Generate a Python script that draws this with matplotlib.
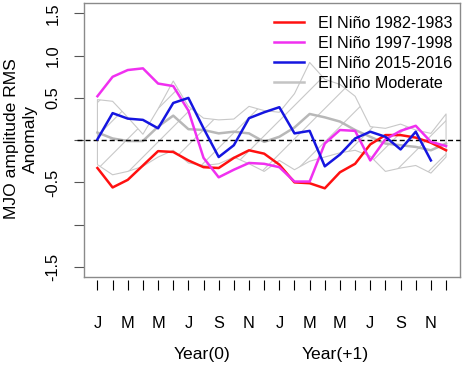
import numpy as np
import matplotlib
matplotlib.use("Agg")
import matplotlib.pyplot as plt
import matplotlib.transforms as mtransforms
from matplotlib.lines import Line2D

plt.rcParams['font.family'] = ['Liberation Sans', 'DejaVu Sans']

# ---- data ----
month_labels = ["J", "F", "M", "A", "M", "J", "J", "A", "S", "O", "N", "D"] * 2
x = np.arange(1, 25)

nino_1982 = [-0.33, -0.56, -0.47, -0.30, -0.13, -0.14, -0.24, -0.32, -0.33, -0.21, -0.12, -0.16,
             -0.29, -0.50, -0.51, -0.57, -0.38, -0.28, -0.05, 0.06, 0.06, 0.03, -0.03, -0.12]
nino_1997 = [0.52, 0.75, 0.83, 0.85, 0.67, 0.64, 0.35, -0.21, -0.44, -0.35, -0.27, -0.28,
             -0.32, -0.49, -0.49, -0.04, 0.12, 0.11, -0.24, 0.01, 0.11, 0.17, -0.02, -0.07]
nino_2015 = [0.01, 0.32, 0.255, 0.24, 0.14, 0.44, 0.50, 0.14, -0.20, -0.06, 0.26, 0.33,
             0.39, 0.08, 0.11, -0.31, -0.17, 0.02, 0.10, 0.04, -0.11, 0.10, -0.24, np.nan]
moderate_mean = [0.09, 0.02, -0.01, -0.01, 0.16, 0.29, 0.13, 0.12, 0.08, 0.10, 0.08, -0.02,
                 0.04, 0.15, 0.31, 0.27, 0.22, 0.12, 0.04, -0.04, -0.06, -0.08, -0.12, -0.04]
moderate_upper = [0.48, 0.46, 0.27, 0.07, 0.37, 0.70, 0.40, 0.26, 0.24, 0.25, 0.40, 0.35,
                  0.33, 0.55, 0.92, 0.72, 0.66, 0.52, 0.16, 0.14, 0.19, 0.12, 0.08, 0.31]
moderate_lower = [-0.29, -0.41, -0.37, -0.31, -0.20, -0.12, -0.27, -0.30, -0.28, -0.20, -0.28, -0.37,
                  -0.24, -0.35, -0.25, -0.20, -0.15, -0.12, -0.19, -0.37, -0.33, -0.30, -0.39, -0.20]

series_labels = ["El Niño 1982-1983", "El Niño 1997-1998", "El Niño 2015-2016", "El Niño Moderate"]
series_colors = ["#ff1010", "#f030f0", "#1515e0", "#c4c4c4"]

yticks = [-1.5, -1.0, -0.5, 0.0, 0.5, 1.0, 1.5]
ytick_labels = ["-1.5", "", "-0.5", "", "0.5", "1.0", "1.5"]

# ---- figure ----
W, H = 466, 369
fig = plt.figure(figsize=(W / 100, H / 100), dpi=100)
L, R, T, B = 83.5, 460, 3.3, 277
ax = fig.add_axes([L / W, 1 - B / H, (R - L) / W, (B - T) / H])

plt.rcParams['hatch.color'] = '#c4c4c4'
plt.rcParams['hatch.linewidth'] = 0.8

ax.fill_between(x, moderate_lower, moderate_upper, facecolor='none',
                edgecolor='#c8c8c8', hatch='/', linewidth=0.8, zorder=1)
ax.plot(x, moderate_mean, color='#b8b8b8', lw=1.8, zorder=2)

trans_h = mtransforms.blended_transform_factory(ax.transAxes, ax.transData)
ax.plot([-0.018, 1], [0, 0], transform=trans_h, color='black', lw=1,
        dashes=(3.6, 2.2), clip_on=False, zorder=3)

l1, = ax.plot(x, nino_1982, color=series_colors[0], lw=1.8, zorder=4)
l2, = ax.plot(x, nino_1997, color=series_colors[1], lw=1.8, zorder=4)
l3, = ax.plot(x, nino_2015, color=series_colors[2], lw=1.8, zorder=5)
l4 = Line2D([], [], color=series_colors[3], lw=1.8)

ax.set_xlim(0.08, 24.92)
ax.set_ylim(-1.62, 1.62)

# box
for s in ['left', 'right', 'top']:
    ax.spines[s].set_color('#8a8a8a')
    ax.spines[s].set_linewidth(1.0)
ax.spines['bottom'].set_position(('outward', 2))
ax.spines['bottom'].set_visible(False)
ax.plot([0, 1], [0, 0], transform=ax.transAxes, color='#8a8a8a', lw=1.0, clip_on=False)

ax.set_xticks(x)
ax.set_xticklabels([lab if i % 2 == 0 else "" for i, lab in enumerate(month_labels)])
ax.tick_params(axis='x', length=7.2, width=0.8, color='black', pad=19, labelsize=11.8)

ax.set_yticks(yticks)
ax.set_yticklabels(ytick_labels)
ax.tick_params(axis='y', length=7.2, width=0.8, color='#555555', pad=9.4, labelsize=11.8,
               labelrotation=90)
for lab in ax.get_yticklabels():
    lab.set_va('center')

# axis titles
tb = mtransforms.blended_transform_factory(ax.transData, fig.transFigure)
ax.text(7.9, 1 - 355 / H, "Year(0)", transform=tb, ha='center', va='center', fontsize=12.6)
ax.text(16.7, 1 - 355 / H, "Year(+1)", transform=tb, ha='center', va='center', fontsize=12.6)
fig.text(21 / W, 1 - 139 / H, "MJO amplitude RMS\nAnomaly", rotation=90, ha='center',
         va='center', ma='center', fontsize=12.6, linespacing=1.25)

ax.legend([l1, l2, l3, l4], series_labels, loc='upper left',
          bbox_to_anchor=(274 / W, 1 - 16 / H), bbox_transform=fig.transFigure,
          frameon=False, fontsize=11.6, handlelength=1.86, handletextpad=0.87,
          labelspacing=0.3, borderpad=0, borderaxespad=0)

fig.savefig("out.png", dpi=100)
